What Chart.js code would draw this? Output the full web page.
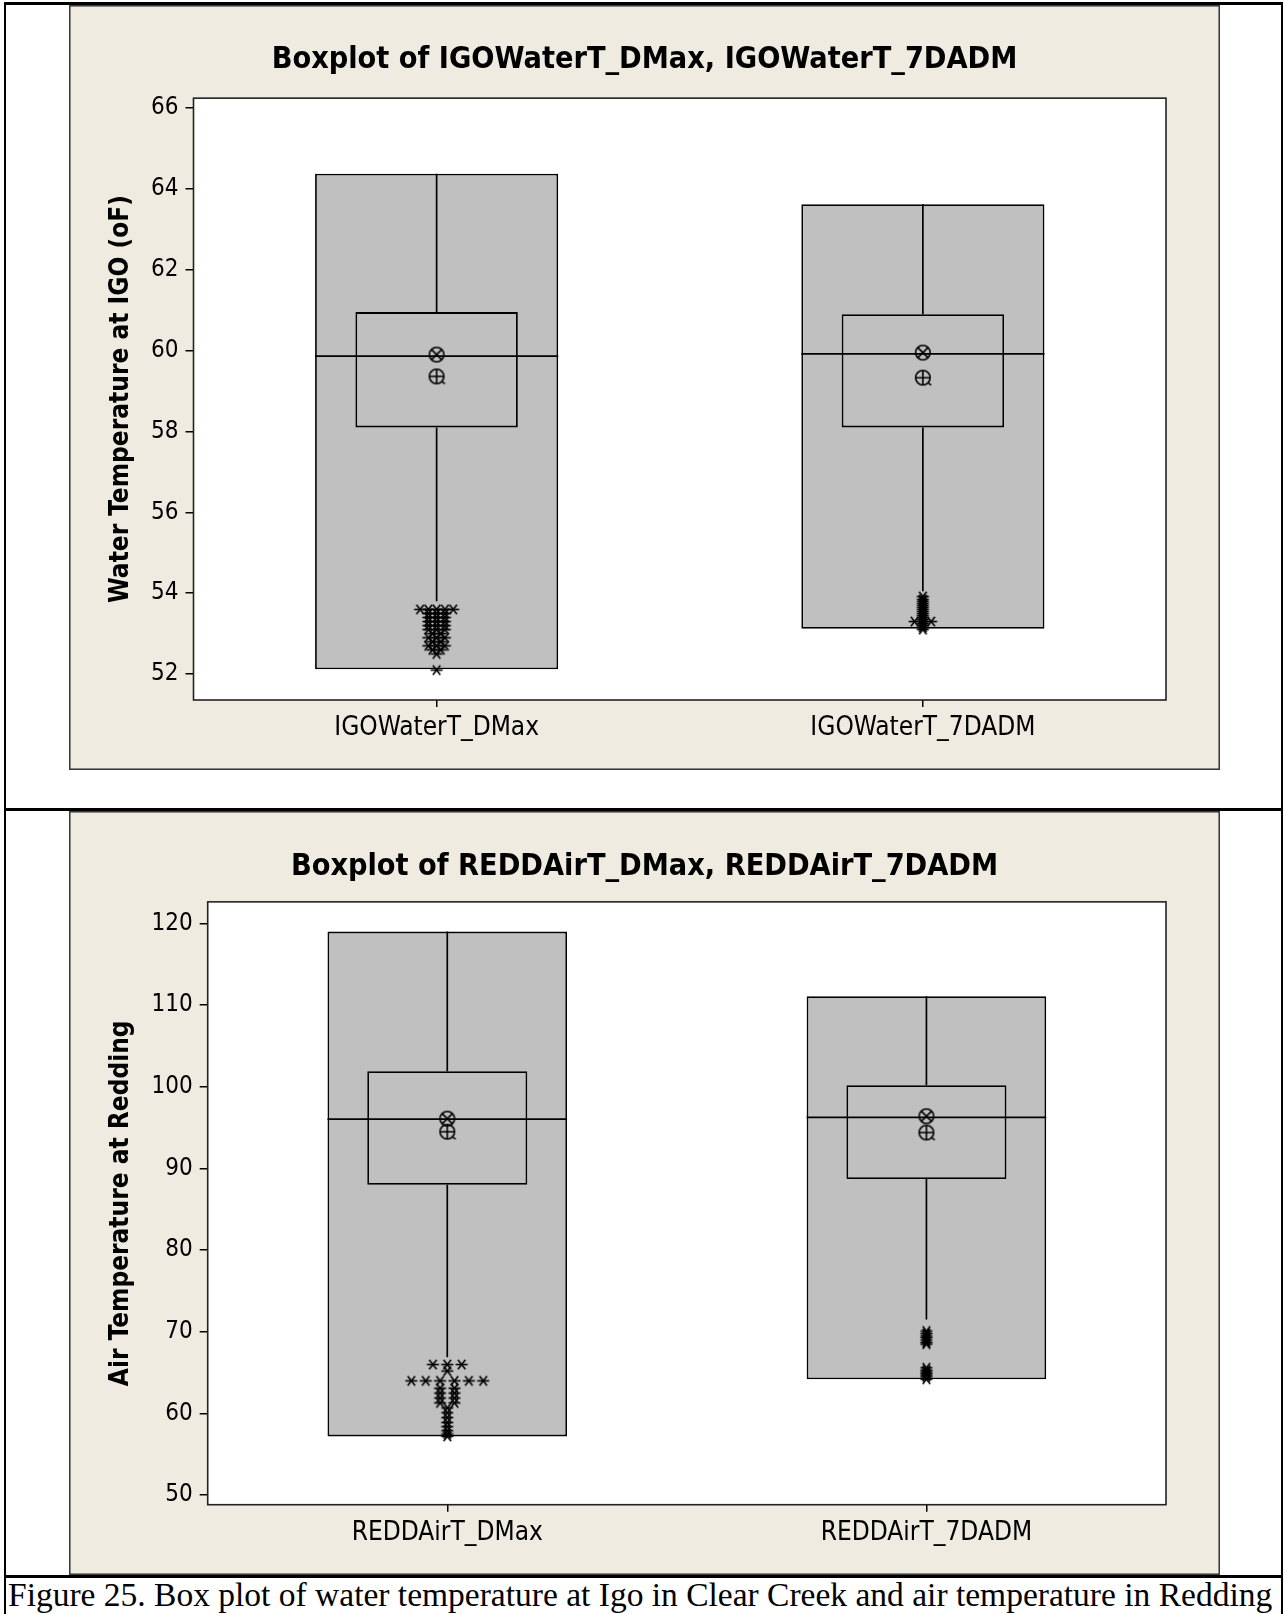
<!DOCTYPE html>
<html>
<head>
<meta charset="utf-8">
<title>Figure 25</title>
<script src="https://cdn.jsdelivr.net/npm/chart.js@4.4.1/dist/chart.umd.min.js"></script>
<style>
  body { margin: 0; background: #fff; width: 1284px; height: 1614px; position: relative; overflow: hidden; }
  .rule { position: absolute; background: #000; }
  canvas { position: absolute; }
  #caption { position: absolute; left: 8px; top: 1576px; font-family: 'Liberation Serif', 'Times New Roman', serif; font-size: 33.5px; line-height: 38px; white-space: nowrap; color: #000; }
</style>
</head>
<body>
<div class="rule" style="left:4px;top:2px;width:1279px;height:3px"></div>
<div class="rule" style="left:4px;top:2px;width:2px;height:1612px"></div>
<div class="rule" style="left:1281px;top:2px;width:2px;height:1612px"></div>
<div class="rule" style="left:4px;top:808px;width:1279px;height:3px"></div>
<div class="rule" style="left:4px;top:1575px;width:1279px;height:3px"></div>

<canvas id="top-chart" width="1151" height="765" style="left:69px;top:5px"></canvas>
<canvas id="bottom-chart" width="1151" height="764" style="left:69px;top:811px"></canvas>

<div id="caption">Figure 25. Box plot of water temperature at Igo in Clear Creek and air temperature in Redding</div>

<script>
// Top panel: water temperature at Igo
const topLabels = ['IGOWaterT_DMax', 'IGOWaterT_7DADM'];
const topTicks = [52, 54, 56, 58, 60, 62, 64, 66];
const topMin = [52.12, 53.12];
const topQ1 = [58.1, 58.1];
const topMedian = [59.86, 59.92];
const topQ3 = [60.95, 60.9];
const topMax = [64.37, 63.62];
const topLowWhisker = [53.8, 54.05];
const topMedianMark = [59.9, 59.95];
const topMean = [59.36, 59.33];
const topOutliersDMax = [53.6, 53.6, 53.6, 53.6, 53.6, 53.5, 53.5, 53.5, 53.4, 53.4, 53.4,
  53.3, 53.3, 53.3, 53.2, 53.2, 53.2, 53.1, 53.1, 53.1, 53.0, 53.0, 52.9, 52.9, 52.9,
  52.8, 52.8, 52.7, 52.7, 52.7, 52.6, 52.6, 52.5, 52.1];
const topOutliers7DADM = [53.92, 53.85, 53.8, 53.75, 53.7, 53.65, 53.6, 53.55, 53.5, 53.45,
  53.4, 53.35, 53.3, 53.3, 53.3, 53.25, 53.2, 53.15, 53.1];

// Bottom panel: air temperature at Redding
const botLabels = ['REDDAirT_DMax', 'REDDAirT_7DADM'];
const botTicks = [50, 60, 70, 80, 90, 100, 110, 120];
const botMin = [57.2, 64.2];
const botQ1 = [88.0, 88.7];
const botMedian = [96.05, 96.25];
const botQ3 = [101.9, 100.2];
const botMax = [119.0, 111.1];
const botLowWhisker = [66.9, 71.5];
const botMedianMark = [96.1, 96.4];
const botMean = [94.5, 94.4];
const botOutliersDMax = [66.0, 66.0, 66.0, 65.2, 64.0, 64.0, 64.0, 64.0, 64.0, 64.0,
  63.1, 63.1, 62.5, 62.5, 61.9, 61.9, 61.3, 61.3, 60.7, 60.1, 59.5, 58.9, 58.4, 57.9, 57.5, 57.2];
const botOutliers7DADM = [70.1, 69.8, 69.5, 69.3, 69.0, 68.7, 68.5,
  65.6, 65.3, 65.1, 64.9, 64.7, 64.5, 64.2];

const rangeBoxPct = 0.5;
const iqrBoxPct = 0.334;

Chart.defaults.font.family = "'DejaVu Sans Condensed', 'DejaVu Sans', sans-serif";
Chart.defaults.color = '#000';

// little symbol images used as point styles
function symbol(size, draw) {
    const c = document.createElement('canvas');
    c.width = size;
    c.height = size;
    const g = c.getContext('2d');
    g.strokeStyle = '#000';
    g.lineWidth = 1.6;
    g.translate(size / 2, size / 2);
    draw(g);
    return c;
}

const asterisk = symbol(15, g => {
    const r = 6;
    [0, 0.9, -0.9].forEach(a => {
        g.beginPath();
        g.moveTo(-r * Math.cos(a), -r * Math.sin(a));
        g.lineTo(r * Math.cos(a), r * Math.sin(a));
        g.stroke();
    });
});

const otimes = symbol(20, g => {
    const r = 7.3;
    g.beginPath();
    g.arc(0, 0, r, 0, Math.PI * 2);
    g.stroke();
    const d = r * Math.SQRT1_2;
    g.beginPath();
    g.moveTo(-d, -d); g.lineTo(d, d);
    g.moveTo(d, -d); g.lineTo(-d, d);
    g.stroke();
});

const oplus = symbol(20, g => {
    const r = 7.3;
    g.beginPath();
    g.arc(0, 0, r, 0, Math.PI * 2);
    g.stroke();
    g.beginPath();
    g.moveTo(-r, 0); g.lineTo(r, 0);
    g.moveTo(0, -r); g.lineTo(0, r);
    g.moveTo(r * 0.7, r * 0.7); g.lineTo(r * 1.15, r * 1.0);
    g.stroke();
});

// equal values sit side by side, like Minitab does
function spreadOutliers(values, x, step) {
    const counts = {};
    values.forEach(v => counts[v] = (counts[v] || 0) + 1);
    const seen = {};
    return values.map(v => {
        seen[v] = (seen[v] || 0) + 1;
        return { x: x + (seen[v] - 1 - (counts[v] - 1) / 2) * step, y: v };
    });
}

const panelPlugin = {
    id: 'panel',
    beforeDraw(chart) {
        const { ctx, width, height, chartArea: a } = chart;
        ctx.save();
        ctx.fillStyle = '#EFEBE1';
        ctx.fillRect(0, 0, width, height);
        ctx.fillStyle = '#fff';
        ctx.fillRect(a.left, a.top, a.right - a.left, a.bottom - a.top);
        ctx.restore();
    },
    afterDraw(chart) {
        const { ctx, width, height, chartArea: a } = chart;
        ctx.save();
        ctx.lineWidth = 1.6;
        ctx.strokeStyle = '#222';
        ctx.strokeRect(a.left, a.top, a.right - a.left, a.bottom - a.top);
        ctx.strokeStyle = '#3a3a3a';
        ctx.strokeRect(0.75, 0.75, width - 1.5, height - 1.5);
        ctx.restore();
    }
};

function makeBoxChart(canvasId, s) {
    const xs = s.labels.map((_, i) => i + 1);
    const half = rangeBoxPct / 2;
    const whiskers = [];
    const medians = [];
    xs.forEach((x, i) => {
        whiskers.push({ x, y: s.q3[i] }, { x, y: s.max[i] }, { x, y: null },
            { x, y: s.q1[i] }, { x, y: s.low[i] }, { x, y: null });
        medians.push({ x: x - half, y: s.median[i] }, { x: x + half, y: s.median[i] }, { x, y: null });
    });
    const outliers = [];
    s.outliers.forEach((vals, i) => outliers.push(...spreadOutliers(vals, xs[i], s.jitter)));

    const box = (lo, hi, pct, order) => ({
        type: 'bar',
        data: xs.map((x, i) => ({ x, y: [lo[i], hi[i]] })),
        backgroundColor: '#C0C0C0',
        borderColor: '#000',
        borderWidth: 1.8,
        borderSkipped: false,
        grouped: false,
        categoryPercentage: 1,
        barPercentage: pct,
        order
    });
    const lines = (data, order) => ({
        type: 'line',
        data,
        borderColor: '#000',
        borderWidth: 1.7,
        pointRadius: 0,
        spanGaps: false,
        order
    });
    const marks = (data, style, order) => ({
        type: 'scatter',
        data,
        pointStyle: style,
        pointRadius: 7,
        order
    });

    return new Chart(document.getElementById(canvasId), {
        type: 'bar',
        data: {
            datasets: [
                box(s.min, s.max, rangeBoxPct, 6),
                box(s.q1, s.q3, iqrBoxPct, 5),
                lines(whiskers, 4),
                lines(medians, 3),
                marks(xs.map((x, i) => ({ x, y: s.medianMark[i] })), otimes, 2),
                marks(xs.map((x, i) => ({ x, y: s.mean[i] })), oplus, 2),
                marks(outliers, asterisk, 1)
            ]
        },
        options: {
            responsive: false,
            animation: false,
            events: [],
            layout: { padding: 0 },
            plugins: {
                legend: { display: false },
                tooltip: { enabled: false },
                title: {
                    display: true,
                    text: s.title,
                    color: '#000',
                    font: { size: 30.3, weight: 'bold' },
                    padding: s.titlePad
                }
            },
            scales: {
                x: {
                    type: 'linear',
                    min: 0.5,
                    max: 2.5,
                    offset: false,
                    afterBuildTicks: scale => { scale.ticks = xs.map(v => ({ value: v })); },
                    afterFit: scale => { scale.height = s.xAxisHeight; },
                    ticks: {
                        callback: v => s.labels[v - 1],
                        font: { size: 26 },
                        padding: 6,
                        autoSkip: false,
                        maxRotation: 0
                    },
                    grid: { offset: false, drawOnChartArea: false, tickLength: 7, color: '#000', lineWidth: 1.5 },
                    border: { display: false }
                },
                y: {
                    min: s.yMin,
                    max: s.yMax,
                    beginAtZero: false,
                    afterBuildTicks: scale => { scale.ticks = s.ticks.map(v => ({ value: v })); },
                    afterFit: scale => { scale.width = s.yAxisWidth; },
                    ticks: { font: { size: 24 }, padding: 7 },
                    grid: { drawOnChartArea: false, tickLength: 8, color: '#000', lineWidth: 1.5 },
                    border: { display: false },
                    title: {
                        display: true,
                        text: s.yTitle,
                        color: '#000',
                        font: { size: 26, weight: 'bold' },
                        padding: { top: 37, bottom: 0 }
                    }
                },
                // empty strip on the right so the title stays centred on the panel
                yRight: {
                    position: 'right',
                    afterFit: scale => { scale.width = 54; },
                    ticks: { display: false },
                    grid: { display: false },
                    border: { display: false }
                }
            }
        },
        plugins: [panelPlugin]
    });
}

makeBoxChart('top-chart', {
    title: 'Boxplot of IGOWaterT_DMax, IGOWaterT_7DADM',
    yTitle: 'Water Temperature at IGO (oF)',
    labels: topLabels,
    ticks: topTicks,
    yMin: 51.36,
    yMax: 66.24,
    min: topMin, q1: topQ1, median: topMedian, q3: topQ3, max: topMax,
    low: topLowWhisker, medianMark: topMedianMark, mean: topMean,
    outliers: [topOutliersDMax, topOutliers7DADM],
    jitter: 0.017,
    titlePad: { top: 37.3, bottom: 19.5 },
    yAxisWidth: 124.5,
    xAxisHeight: 70
});

makeBoxChart('bottom-chart', {
    title: 'Boxplot of REDDAirT_DMax, REDDAirT_7DADM',
    yTitle: 'Air Temperature at Redding',
    labels: botLabels,
    ticks: botTicks,
    yMin: 48.84,
    yMax: 122.64,
    min: botMin, q1: botQ1, median: botMedian, q3: botQ3, max: botMax,
    low: botLowWhisker, medianMark: botMedianMark, mean: botMean,
    outliers: [botOutliersDMax, botOutliers7DADM],
    jitter: 0.03,
    titlePad: { top: 37.6, bottom: 16.9 },
    yAxisWidth: 138.7,
    xAxisHeight: 70.3
});
</script>
</body>
</html>
